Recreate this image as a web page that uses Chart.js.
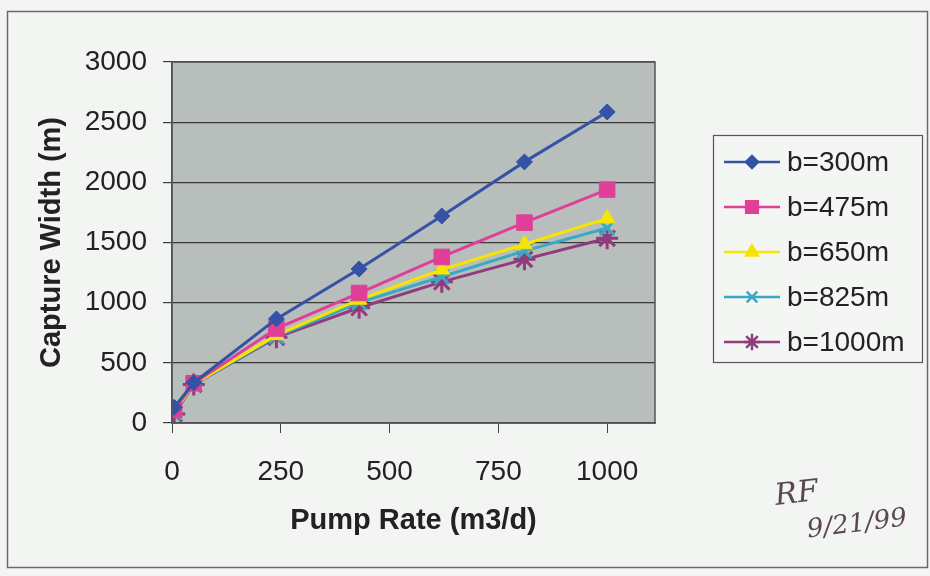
<!DOCTYPE html>
<html>
<head>
<meta charset="utf-8">
<script src="https://cdn.jsdelivr.net/npm/chart.js@4/dist/chart.umd.min.js"></script>
<style>
  html, body { margin: 0; padding: 0; background: #f3f5f3; }
  canvas { display: block; }
</style>
</head>
<body>
<canvas id="chart" width="930" height="576"></canvas>
<script>
// Pump rate (m3/d) at which capture width was computed
const pumpRates = [5, 50, 240, 430, 620, 810, 1000];

// Capture width (m) for each aquifer thickness b
const b300 = [130, 335, 865, 1280, 1720, 2170, 2585];
const b475 = [110, 330, 785, 1080, 1380, 1665, 1940];
const b650 = [95, 325, 730, 1025, 1275, 1485, 1700];
const b825 = [85, 322, 720, 1000, 1215, 1430, 1620];
const b1000 = [75, 320, 712, 958, 1173, 1360, 1535];

const seriesLabels = ['b=300m', 'b=475m', 'b=650m', 'b=825m', 'b=1000m'];
const xTicks = [0, 250, 500, 750, 1000];
const yTicks = [0, 500, 1000, 1500, 2000, 2500, 3000];

const FONT = '"Liberation Sans", Arial, sans-serif';

function toPoints(values) {
  return pumpRates.map((x, i) => ({ x: x, y: values[i] }));
}

function series(label, values, color, style, radius, width) {
  return {
    label: label,
    data: toPoints(values),
    borderColor: color,
    backgroundColor: color,
    pointBackgroundColor: color,
    pointBorderColor: color,
    pointStyle: style,
    pointRadius: radius,
    pointHoverRadius: radius,
    pointBorderWidth: width,
    borderWidth: 3,
    showLine: true,
    tension: 0
  };
}

// Gray plot area, page frame and scribbled initials
const backdrop = {
  id: 'backdrop',
  beforeDraw(chart) {
    const { ctx, chartArea: a } = chart;
    ctx.save();
    ctx.fillStyle = '#b8bebc';
    ctx.fillRect(a.left, a.top, a.right - a.left, a.bottom - a.top);
    ctx.restore();
  },
  afterDraw(chart) {
    const { ctx, chartArea: a } = chart;
    ctx.save();
    ctx.strokeStyle = '#555';
    ctx.lineWidth = 1.5;
    ctx.strokeRect(a.left, a.top, a.right - a.left, a.bottom - a.top);

    // outer chart frame
    ctx.strokeStyle = '#6a6a6a';
    ctx.lineWidth = 1.5;
    ctx.strokeRect(7.5, 11.5, 920, 556);

    // handwritten note
    ctx.fillStyle = '#5b4752';
    ctx.font = 'italic 30px "DejaVu Serif", serif';
    ctx.translate(776, 505);
    ctx.rotate(-0.12);
    ctx.fillText('RF', 0, 0);
    ctx.font = 'italic 26px "DejaVu Serif", serif';
    ctx.fillText('9/21/99', 28, 36);
    ctx.restore();
  }
};

// Boxed legend with line + marker samples
const boxLegend = {
  id: 'boxLegend',
  afterDraw(chart) {
    const { ctx } = chart;
    ctx.save();
    ctx.fillStyle = '#f4f6f4';
    ctx.fillRect(713, 135, 210, 228);
    ctx.strokeStyle = '#555';
    ctx.lineWidth = 1.2;
    ctx.strokeRect(713.5, 135.5, 209, 227);
    chart.data.datasets.forEach((ds, i) => {
      const y = 162 + i * 45;
      ctx.strokeStyle = ds.borderColor;
      ctx.fillStyle = ds.borderColor;
      ctx.lineWidth = 2.5;
      ctx.beginPath();
      ctx.moveTo(724, y);
      ctx.lineTo(780, y);
      ctx.stroke();
      Chart.helpers.drawPoint(ctx, {
        pointStyle: ds.pointStyle,
        radius: ds.pointRadius * 0.75,
        borderWidth: Math.max(2, ds.pointBorderWidth * 0.8),
        rotation: 0
      }, 752, y);
      ctx.fillStyle = '#222';
      ctx.font = '28px ' + FONT;
      ctx.textBaseline = 'middle';
      ctx.fillText(ds.label, 787, y + 1);
    });
    ctx.restore();
  }
};

new Chart(document.getElementById('chart'), {
  type: 'scatter',
  data: {
    datasets: [
      series(seriesLabels[0], b300, '#3553a6', 'rectRot', 8, 1),
      series(seriesLabels[1], b475, '#e03f98', 'rect', 11, 1),
      series(seriesLabels[2], b650, '#f6e500', 'triangle', 9, 1),
      series(seriesLabels[3], b825, '#3aa9c2', 'crossRot', 10, 3),
      series(seriesLabels[4], b1000, '#8f3b7c', 'star', 11, 3)
    ]
  },
  options: {
    responsive: false,
    animation: false,
    layout: { padding: { left: 0, top: 62, right: 275, bottom: 0 } },
    plugins: {
      legend: { display: false },
      tooltip: { enabled: false }
    },
    scales: {
      x: {
        type: 'linear',
        min: 0,
        max: 1110,
        afterBuildTicks: (scale) => { scale.ticks = xTicks.map(v => ({ value: v })); },
        afterFit: (scale) => { scale.height = 153; },
        grid: { drawOnChartArea: false, drawTicks: true, tickLength: 10, color: '#444' },
        border: { color: '#444', width: 1.5 },
        ticks: {
          color: '#222', padding: 22, maxRotation: 0,
          font: { family: FONT, size: 28 },
          callback: (v) => String(v)
        },
        title: {
          display: true,
          text: 'Pump Rate (m3/d)',
          color: '#222',
          padding: { top: 0, bottom: 38 },
          font: { family: FONT, size: 29, weight: 'bold' }
        }
      },
      y: {
        min: 0,
        max: 3000,
        afterBuildTicks: (scale) => { scale.ticks = yTicks.map(v => ({ value: v })); },
        afterFit: (scale) => { scale.width = 172; },
        grid: { color: '#3a3a3a', lineWidth: 1.2, tickLength: 9 },
        border: { color: '#444', width: 1.5 },
        ticks: {
          color: '#222', padding: 16,
          font: { family: FONT, size: 28 },
          callback: (v) => String(v)
        },
        title: {
          display: true,
          text: 'Capture Width (m)',
          color: '#222',
          padding: { top: 35, bottom: 0 },
          font: { family: FONT, size: 29, weight: 'bold' }
        }
      }
    }
  },
  plugins: [backdrop, boxLegend]
});
</script>
</body>
</html>
